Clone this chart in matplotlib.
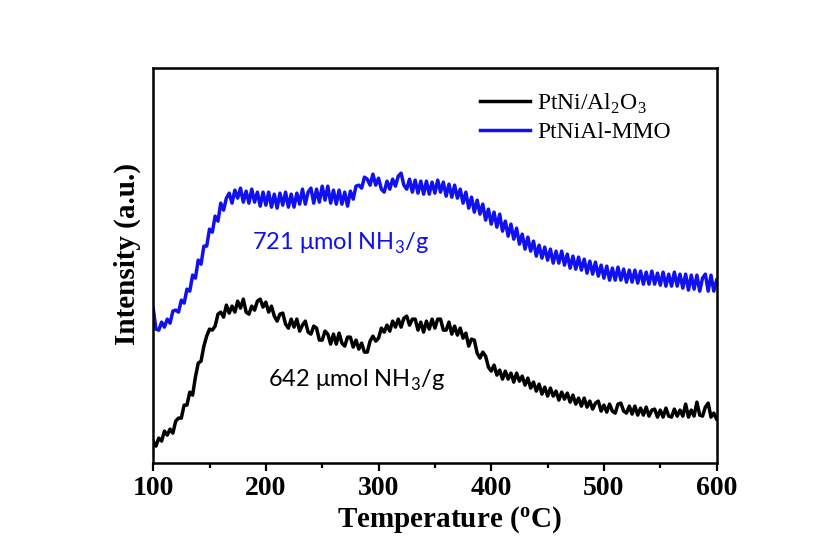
import matplotlib
matplotlib.use("Agg")
import matplotlib.pyplot as plt
from matplotlib.ticker import MultipleLocator

# temperatura de 100 a 600 C, passo de 2.5
temperatura = [100 + 2.5 * i for i in range(201)]

# PtNi/Al2O3 (curva preta), 10 valores por linha (25 C)
int_ptni_al2o3 = [
    22, 17, 25, 22, 32, 28, 34, 30, 42, 45,
    45, 58, 58, 71, 68, 86, 100, 102, 117, 127,
    134, 133, 137, 149, 151, 146, 158, 150, 157, 151,
    162, 155, 164, 151, 149, 157, 153, 162, 164, 156,
    161, 151, 157, 147, 142, 149, 150, 139, 135, 144,
    136, 144, 132, 138, 142, 131, 129, 137, 135, 123,
    123, 132, 129, 119, 129, 119, 130, 120, 117, 126,
    126, 116, 123, 114, 120, 111, 111, 122, 127, 122,
    125, 135, 131, 138, 132, 142, 136, 144, 136, 145,
    147, 138, 144, 144, 133, 141, 131, 142, 134, 144,
    135, 144, 144, 133, 133, 141, 129, 137, 128, 135,
    125, 130, 117, 124, 123, 110, 105, 111, 107, 96,
    92, 98, 88, 93, 84, 92, 84, 90, 81, 90,
    82, 87, 78, 85, 75, 81, 72, 79, 69, 76,
    67, 75, 67, 72, 63, 71, 64, 70, 61, 68,
    59, 65, 57, 65, 56, 62, 54, 60, 62, 52,
    58, 51, 59, 52, 50, 59, 60, 52, 50, 57,
    49, 57, 48, 55, 48, 56, 47, 53, 54, 46,
    53, 46, 55, 47, 46, 54, 47, 53, 47, 59,
    46, 53, 47, 61, 48, 47, 56, 60, 46, 50,
    44,
]

# PtNiAl-MMO (curva azul)
int_ptnial_mmo = [
    155, 134, 133, 141, 136, 144, 140, 152, 153, 151,
    163, 160, 174, 172, 188, 185, 203, 199, 217, 217,
    234, 231, 247, 242, 260, 253, 265, 270, 260, 273,
    265, 275, 261, 272, 260, 274, 261, 271, 257, 271,
    258, 271, 256, 269, 255, 270, 258, 271, 256, 269,
    256, 270, 259, 274, 259, 271, 275, 260, 274, 261,
    277, 263, 277, 260, 273, 259, 273, 259, 271, 257,
    272, 264, 277, 278, 275, 286, 284, 278, 289, 278,
    285, 274, 271, 282, 274, 284, 277, 287, 290, 278,
    274, 284, 271, 283, 270, 282, 269, 282, 269, 281,
    270, 283, 271, 281, 267, 279, 266, 278, 265, 274,
    260, 271, 255, 266, 251, 263, 249, 259, 243, 254,
    239, 251, 236, 249, 232, 242, 227, 239, 224, 235,
    219, 229, 214, 226, 212, 222, 207, 218, 205, 216,
    203, 214, 200, 212, 200, 212, 198, 209, 195, 207,
    194, 206, 193, 204, 190, 202, 189, 201, 187, 198,
    185, 197, 183, 195, 183, 196, 183, 194, 181, 193,
    181, 193, 180, 192, 179, 191, 179, 192, 179, 190,
    178, 191, 177, 189, 177, 191, 177, 189, 175, 189,
    173, 188, 174, 188, 172, 185, 189, 172, 188, 172,
    183,
]

rotulos_x = ["100", "200", "300", "400", "500", "600"]

fig = plt.figure(figsize=(8.19, 5.41), dpi=100)
ax = fig.add_axes([0.187, 0.144, 0.688, 0.730])

ax.plot(temperatura, int_ptni_al2o3, color="black", linewidth=2.5,
        label="PtNi/Al$_\\mathregular{2}$O$_\\mathregular{3}$")
ax.plot(temperatura, int_ptnial_mmo, color="#1010f0", linewidth=2.5, label="PtNiAl-MMO")

ax.set_xlim(100, 600)
ax.set_ylim(0, 395)
ax.set_yticks([])
ax.xaxis.set_minor_locator(MultipleLocator(50))
ax.set_xticks([100, 200, 300, 400, 500, 600])
ax.set_xticklabels(rotulos_x, fontfamily="Liberation Serif", fontweight="bold", fontsize=20)
ax.tick_params(axis="x", which="major", direction="out", length=6, width=1.6, pad=3)
ax.tick_params(axis="x", which="minor", direction="out", length=3.5, width=1.6)
for sp in ax.spines.values():
    sp.set_linewidth(1.8)

ax.set_xlabel("Temperature ($\\mathregular{^{o}}$C)", fontfamily="Liberation Serif",
              fontweight="bold", fontsize=21, labelpad=2)
ax.set_ylabel("Intensity (a.u.)", fontfamily="Liberation Serif",
              fontweight="bold", fontsize=21)
ax.xaxis.set_label_coords(0.525, -0.105)
ax.yaxis.set_label_coords(-0.022, 0.53)

# textos com a quantidade de acidez
ax.text(188, 220, "721 μmol NH$_\\mathregular{3}$/g", color="#1010f0",
        fontfamily="Lato", fontsize=17, va="center")
ax.text(202, 83, "642 μmol NH$_\\mathregular{3}$/g", color="black",
        fontfamily="Lato", fontsize=17, va="center")

ax.legend(loc="upper right", frameon=False, prop={"family": "Liberation Serif", "size": 17},
          handlelength=2.1, handletextpad=0.3, labelspacing=0.25,
          bbox_to_anchor=(0.956, 0.995))

fig.savefig("out.png", dpi=100, facecolor="white")
